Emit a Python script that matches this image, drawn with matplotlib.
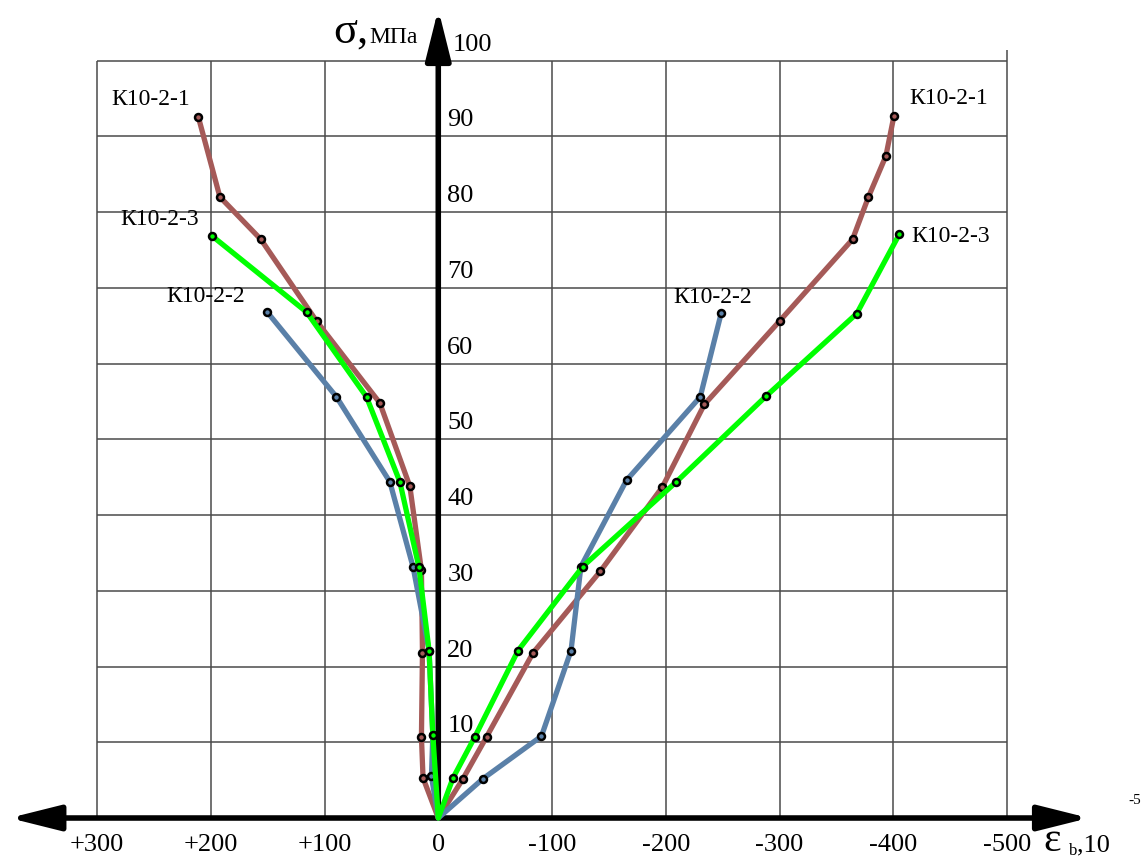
import matplotlib.pyplot as plt

plt.rcParams['font.family'] = ['Liberation Serif', 'DejaVu Serif']

# strain (x1e-5) and stress (MPa); left branch listed top-down to the origin, right branch bottom-up
k1_left_eps = [211, 192, 156, 107, 51.4, 25, 14.8, 13.9, 14.8, 13.4, 0]
k1_left_sig = [92.6, 82.0, 76.4, 65.6, 54.8, 43.8, 32.7, 21.8, 10.7, 5.3, 0]
k1_right_eps = [-21.8, -42.4, -83.3, -142.6, -197, -233.9, -300, -364.2, -378.2, -393.5, -400.6]
k1_right_sig = [5.2, 10.7, 21.8, 32.6, 43.7, 54.6, 65.6, 76.4, 82.0, 87.4, 92.7]

k2_left_eps = [150.4, 89.5, 42.6, 22.1, 8.1, 4.8, 6.0, 0]
k2_left_sig = [66.8, 55.6, 44.4, 33.1, 22.1, 11.0, 5.5, 0]
k2_right_eps = [-39.4, -90.7, -116.7, -125.4, -165.5, -230.3, -248.8]
k2_right_sig = [5.2, 10.8, 22.1, 33.2, 44.6, 55.6, 66.7]

k3_left_eps = [199.3, 115.8, 63.1, 33.8, 17.0, 8.1, 4.8, 0]
k3_left_sig = [76.9, 66.8, 55.6, 44.4, 33.1, 22.1, 11.0, 0]
k3_right_eps = [-13.0, -32.1, -70.1, -127.0, -209.4, -288.2, -367.9, -405.4]
k3_right_sig = [5.3, 10.7, 22.1, 33.2, 44.4, 55.7, 66.6, 77.1]

x_ticks = [300, 200, 100, 0, -100, -200, -300, -400, -500]
x_tick_labels = ['+300', '+200', '+100', '0', '-100', '-200', '-300', '-400', '-500']
y_ticks = [10, 20, 30, 40, 50, 60, 70, 80, 90, 100]

fig = plt.figure(figsize=(11.45, 8.58), dpi=100)
ax = fig.add_axes([0, 0, 1, 1])
ax.set_xlim(385.3, -621.3)
ax.set_ylim(-5.28, 108.0)
ax.axis('off')

# grid
grid_kw = dict(color='#4a4a4a', lw=1.1, zorder=1)
ax.vlines(x_ticks[:-1], 0, 100, **grid_kw)
ax.vlines(-500, 0, 101.4, **grid_kw)
ax.hlines(y_ticks, 300, -500, **grid_kw)

# axes with arrows
ax.annotate('', xy=(-572, 0), xytext=(377, 0),
            arrowprops=dict(arrowstyle='<|-|>,head_length=1.4,head_width=0.35',
                            lw=4, color='black', mutation_scale=22, shrinkA=0, shrinkB=0),
            zorder=3)
ax.annotate('', xy=(0, 106.8), xytext=(0, 0),
            arrowprops=dict(arrowstyle='-|>,head_length=1.4,head_width=0.35',
                            lw=4, color='black', mutation_scale=22, shrinkA=0, shrinkB=0),
            zorder=3)

series = [
    (k1_left_eps, k1_left_sig, k1_right_eps, k1_right_sig, '#a55a58', 4),
    (k2_left_eps, k2_left_sig, k2_right_eps, k2_right_sig, '#5a80a8', 5),
    (k3_left_eps, k3_left_sig, k3_right_eps, k3_right_sig, '#00ff00', 6),
]
for le, ls, re_, rs, color, z in series:
    eps = le + re_
    sig = ls + rs
    origin = len(le) - 1
    marks = [i for i in range(len(eps)) if i != origin]
    ax.plot(eps, sig, color=color, lw=3.8, marker='o', ms=5, mfc=color,
            mec='black', mew=1.8, markevery=marks, zorder=z, solid_joinstyle='round')

# curve names at the ends of each branch
name_kw = dict(textcoords='offset pixels', fontsize=17, va='center', zorder=7)
ax.annotate('К10-2-1', (k1_left_eps[0], k1_left_sig[0]), xytext=(-8, 17), ha='right', **name_kw)
ax.annotate('К10-2-1', (k1_right_eps[-1], k1_right_sig[-1]), xytext=(15, 17), ha='left', **name_kw)
ax.annotate('К10-2-3', (k3_left_eps[0], k3_left_sig[0]), xytext=(-13, 16), ha='right', **name_kw)
ax.annotate('К10-2-3', (k3_right_eps[-1], k3_right_sig[-1]), xytext=(12, -2), ha='left', **name_kw)
ax.annotate('К10-2-2', (k2_left_eps[0], k2_left_sig[0]), xytext=(-22, 16), ha='right', **name_kw)
ax.annotate('К10-2-2', (k2_right_eps[-1], k2_right_sig[-1]), xytext=(-9, 15), ha='center', **name_kw)

# tick labels
for v, lab in zip(x_ticks, x_tick_labels):
    ax.annotate(lab, (v, 0), xytext=(0, -27), textcoords='offset pixels',
                ha='center', va='center', fontsize=19)
for v in y_ticks:
    ax.annotate(str(v), (0, v), xytext=(9 if v < 100 else 14, 16), textcoords='offset pixels',
                ha='left', va='center', fontsize=19)

# axis titles
ax.annotate('σ,', (0, 0), xytext=(-70, 775), textcoords='offset pixels',
            ha='right', va='baseline', fontsize=32)
ax.annotate('МПа', (0, 0), xytext=(-69, 775), textcoords='offset pixels',
            ha='left', va='baseline', fontsize=17)
ax.annotate('ε', (-500, 0), xytext=(45, -33), textcoords='offset pixels',
            ha='center', va='baseline', fontsize=30)
ax.annotate('b', (-500, 0), xytext=(62, -37), textcoords='offset pixels',
            ha='left', va='baseline', fontsize=12)
ax.annotate(',10', (-500, 0), xytext=(70, -33), textcoords='offset pixels',
            ha='left', va='baseline', fontsize=19)
ax.annotate('-5', (-500, 0), xytext=(121, 14), textcoords='offset pixels',
            ha='left', va='baseline', fontsize=11)

fig.savefig('out.png', dpi=100)
